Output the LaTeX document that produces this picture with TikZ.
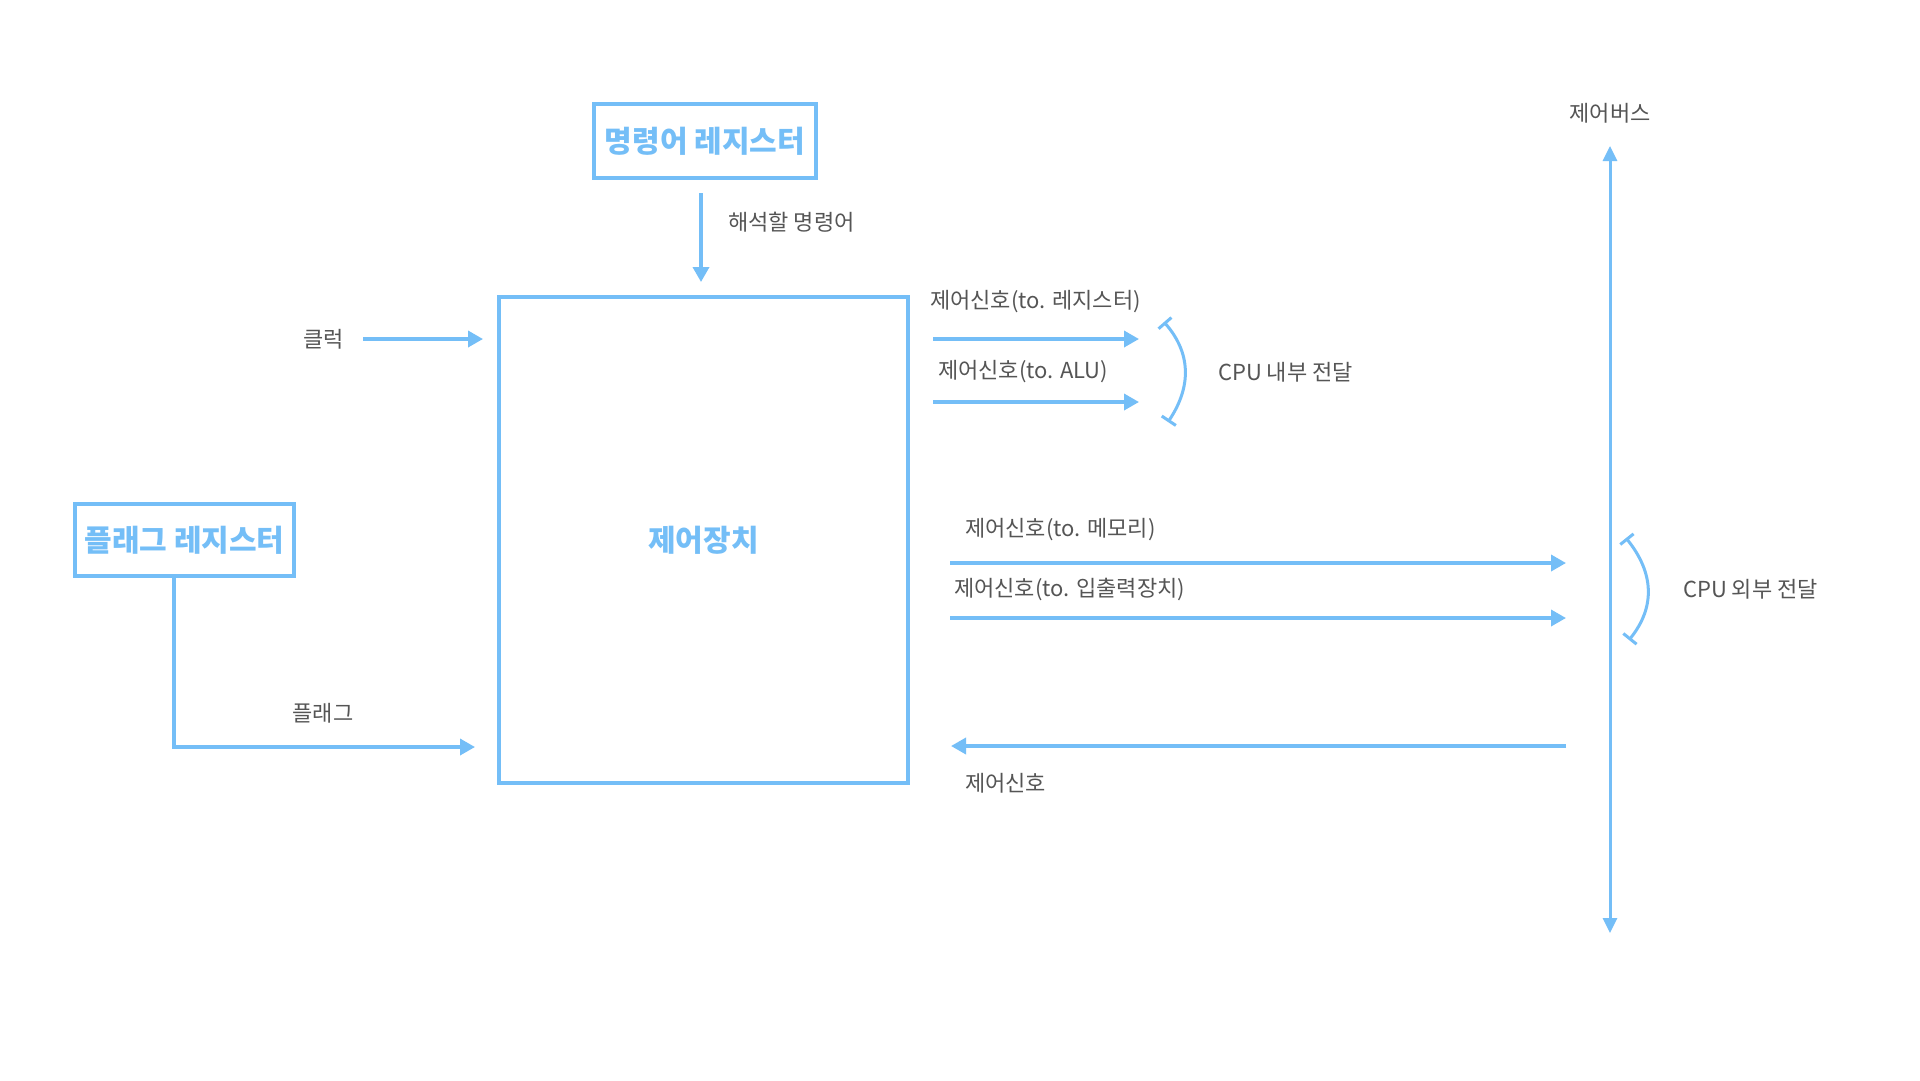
\documentclass[tikz,border=0pt]{standalone}
\usepackage{fontspec}
\setmainfont{Noto Sans CJK KR}
\usetikzlibrary{arrows.meta}
\definecolor{cblue}{HTML}{74BEF7}
\definecolor{ctext}{HTML}{555555}
\begin{document}
\begin{tikzpicture}[x=1pt,y=-1pt,
  boxnode/.style={draw=cblue,line width=4pt,inner sep=0pt,text=cblue,font=\fontsize{30}{34}\selectfont\bfseries},
  lbl/.style={inner sep=0pt,text=ctext,font=\fontsize{22}{26}\selectfont},
  arr/.style={draw=cblue,line width=3.5pt,-{Triangle[length=15pt,width=16pt]}},
  bus/.style={draw=cblue,line width=3pt,{Triangle[length=15pt,width=14pt]}-{Triangle[length=15pt,width=14pt]}},
  brace/.style={draw=cblue,line width=3pt,{Bar[width=17pt]}-{Bar[width=17pt]}}]
\useasboundingbox[fill=white] (0,0) rectangle (1920,1080);

% boxes
\node[boxnode,minimum width=222pt,minimum height=74pt] (ir) at (705,141) {명령어 레지스터};
\node[boxnode,minimum width=409pt,minimum height=486pt] (cu) at (703.5,540) {제어장치};
\node[boxnode,minimum width=219pt,minimum height=72pt] (fr) at (184.5,540) {플래그 레지스터};

% instruction register -> control unit
\coordinate (irA) at (701,193);
\coordinate (irB) at (701,282);
\draw[arr] (irA) -- (irB);
\node[lbl,anchor=west] (lint) at (728,222) {해석할 명령어};

% clock
\node[lbl,anchor=east] (lclk) at (344,339) {클럭};
\coordinate (clkA) at (363,339);
\coordinate (clkB) at (483,339);
\draw[arr] (clkA) -- (clkB);

% flag
\coordinate (flA) at (174,578);
\coordinate (flC) at (174,747);
\coordinate (flB) at (475,747);
\draw[arr] (flA) -- (flC) -- (flB);
\node[lbl] (lflag) at (323,713) {플래그};

% internal signals
\node[lbl,anchor=west] (lreg) at (930,302) {제어신호(to. 레지스터)};
\coordinate (r1A) at (933,339);
\coordinate (r1B) at (1139,339);
\draw[arr] (r1A) -- (r1B);
\node[lbl,anchor=west] (lalu) at (938,372) {제어신호(to. ALU)};
\coordinate (r2A) at (933,402);
\coordinate (r2B) at (1139,402);
\draw[arr] (r2A) -- (r2B);
\coordinate (b1A) at (1164,322);
\coordinate (b1B) at (1168,422);
\draw[brace] (b1A) .. controls (1190.7,352.7) and (1192,386) .. (b1B);
\node[lbl,anchor=west] (lin) at (1218,372) {CPU 내부 전달};

% external signals
\node[lbl,anchor=west] (lmem) at (965,530) {제어신호(to. 메모리)};
\coordinate (m1A) at (950,563);
\coordinate (m1B) at (1566,563);
\draw[arr] (m1A) -- (m1B);
\node[lbl,anchor=west] (lio) at (954,589) {제어신호(to. 입출력장치)};
\coordinate (m2A) at (950,618);
\coordinate (m2B) at (1566,618);
\draw[arr] (m2A) -- (m2B);
\coordinate (m3A) at (1566,746);
\coordinate (m3B) at (951,746);
\draw[arr] (m3A) -- (m3B);
\node[lbl,anchor=west] (lsig) at (965,783) {제어신호};

% control bus
\node[lbl] (lbus) at (1610,113) {제어버스};
\coordinate (busT) at (1610,146);
\coordinate (busB) at (1610,933);
\draw[bus] (busT) -- (busB);
\coordinate (b2A) at (1626,538);
\coordinate (b2B) at (1629,640);
\draw[brace] (b2A) .. controls (1654.3,573.3) and (1655.3,607.3) .. (b2B);
\node[lbl,anchor=west] (lout) at (1683,589) {CPU 외부 전달};
\end{tikzpicture}
\end{document}
